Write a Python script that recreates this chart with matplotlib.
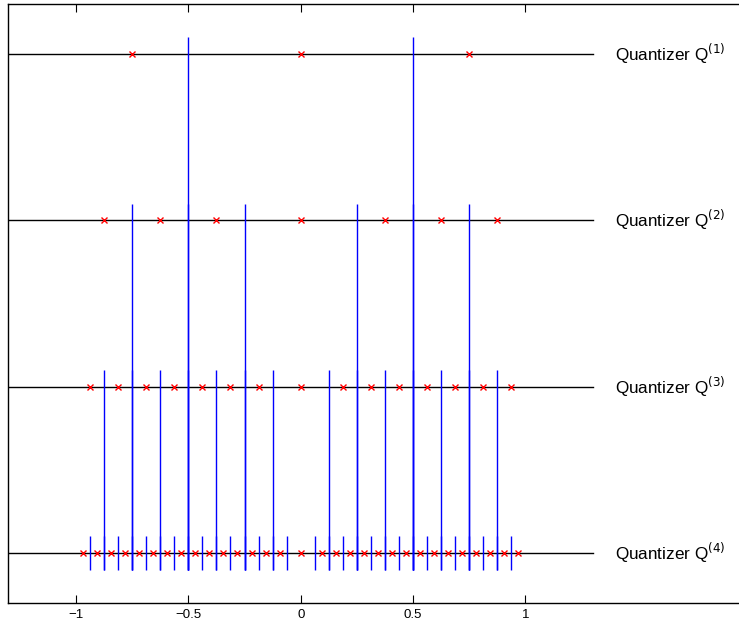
import matplotlib
matplotlib.use("Agg")
import matplotlib.pyplot as plt

plt.rcParams['font.family'] = ['Liberation Sans', 'DejaVu Sans']

# quantizer rows (top to bottom) and their y positions
labels = ['Quantizer Q$^{(1)}$', 'Quantizer Q$^{(2)}$',
          'Quantizer Q$^{(3)}$', 'Quantizer Q$^{(4)}$']
levels = [4, 3, 2, 1]

# reconstruction points (red crosses)
q1_points = [-0.75, 0, 0.75]
q2_points = [-0.875, -0.625, -0.375, 0, 0.375, 0.625, 0.875]
q3_points = [-0.9375, -0.8125, -0.6875, -0.5625, -0.4375, -0.3125, -0.1875, 0,
             0.1875, 0.3125, 0.4375, 0.5625, 0.6875, 0.8125, 0.9375]
q4_points = [-0.96875, -0.90625, -0.84375, -0.78125, -0.71875, -0.65625, -0.59375,
             -0.53125, -0.46875, -0.40625, -0.34375, -0.28125, -0.21875, -0.15625,
             -0.09375, 0, 0.09375, 0.15625, 0.21875, 0.28125, 0.34375, 0.40625,
             0.46875, 0.53125, 0.59375, 0.65625, 0.71875, 0.78125, 0.84375,
             0.90625, 0.96875]

# decision thresholds added at each refinement (blue lines)
q1_thresholds = [-0.5, 0.5]
q2_thresholds = [-0.75, -0.25, 0.25, 0.75]
q3_thresholds = [-0.875, -0.625, -0.375, -0.125, 0.125, 0.375, 0.625, 0.875]
q4_thresholds = [-0.9375, -0.8125, -0.6875, -0.5625, -0.4375, -0.3125, -0.1875,
                 -0.0625, 0.0625, 0.1875, 0.3125, 0.4375, 0.5625, 0.6875,
                 0.8125, 0.9375]

points = [q1_points, q2_points, q3_points, q4_points]
thresholds = [q1_thresholds, q2_thresholds, q3_thresholds, q4_thresholds]

fig = plt.figure(figsize=(7.39, 6.26), dpi=100)
ax = fig.add_axes([0.0115, 0.0367, 0.9885, 0.957])

# each quantizer draws all thresholds it contains, down to the bottom row
cum = []
for lev, th in zip(levels, thresholds):
    cum = cum + th
    ax.vlines(cum, 0.9, lev + 0.1, colors='blue', linewidth=1.0)

for lev, pts, lab in zip(levels, points, labels):
    ax.plot([-1.3, 1.3], [lev, lev], color='black', linewidth=1.0, zorder=1)
    ax.plot(pts, [lev] * len(pts), 'x', color='red', markersize=5,
            markeredgewidth=1.0, zorder=3)
    ax.text(1.4, lev, lab, fontsize=12.3, va='center', ha='left')

ax.set_xlim(-1.3, 1.95)
ax.set_ylim(0.7, 4.3)
ax.set_xticks([-1, -0.5, 0, 0.5, 1])
ax.set_xticklabels(['\u22121', '\u22120.5', '0', '0.5', '1'], fontsize=9.5)
ax.set_yticks([])
ax.tick_params(axis='x', direction='in', top=True, length=6, width=0.8, pad=4)
ax.spines['right'].set_visible(False)
for s in ['left', 'top', 'bottom']:
    ax.spines[s].set_linewidth(1.0)

fig.savefig('out.png', dpi=100)
